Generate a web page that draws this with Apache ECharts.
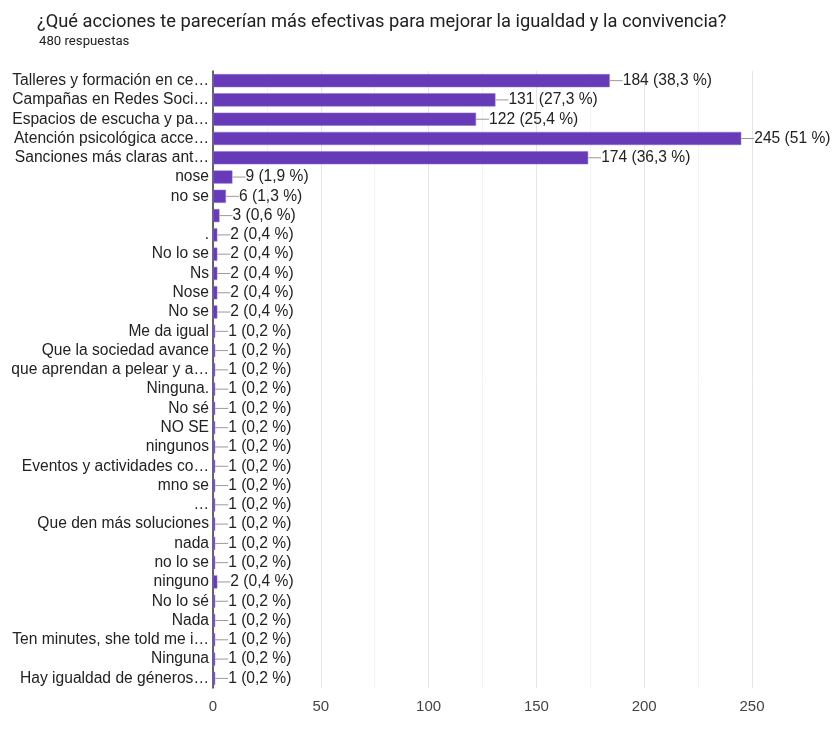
<!DOCTYPE html>
<html>
<head>
<meta charset="utf-8">
<script src="https://cdn.jsdelivr.net/npm/echarts@6/dist/echarts.min.js"></script>
<style>
  html, body { margin: 0; padding: 0; background: #fff; }
  #chart { width: 833px; height: 729px; }
</style>
</head>
<body>
<div id="chart"></div>
<script>
const titleText = '¿Qué acciones te parecerían más efectivas para mejorar la igualdad y la convivencia?'
const subtitleText = '480 respuestas'

const categories = [
  'Talleres y formación en ce…', 'Campañas en Redes Soci…', 'Espacios de escucha y pa…',
  'Atención psicológica acce…', 'Sanciones más claras ant…', 'nose', 'no se', ' ', '.',
  'No lo se', 'Ns', 'Nose', 'No se', 'Me da igual', 'Que la sociedad avance',
  'que aprendan a pelear y a…', 'Ninguna.', 'No sé', 'NO SE', 'ningunos',
  'Eventos y actividades co…', 'mno se', '…', 'Que den más soluciones', 'nada',
  'no lo se', 'ninguno', 'No lo sé', 'Nada', 'Ten minutes, she told me i…',
  'Ninguna', 'Hay igualdad de géneros…'
]
const counts = [184, 131, 122, 245, 174, 9, 6, 3, 2, 2, 2, 2, 2, 1, 1, 1, 1, 1, 1, 1, 1, 1, 1, 1, 1, 1, 2, 1, 1, 1, 1, 1]
const percents = ['38,3', '27,3', '25,4', '51', '36,3', '1,9', '1,3', '0,6', '0,4', '0,4', '0,4', '0,4', '0,4',
  '0,2', '0,2', '0,2', '0,2', '0,2', '0,2', '0,2', '0,2', '0,2', '0,2', '0,2', '0,2', '0,2', '0,4', '0,2', '0,2', '0,2', '0,2', '0,2']
const xTicks = [0, 50, 100, 150, 200, 250]

const chart = echarts.init(document.getElementById('chart'))

chart.setOption({
  animation: false,
  textStyle: { fontFamily: 'Liberation Sans, Arial, sans-serif' },
  title: [{
    text: titleText,
    left: 32,
    top: 8,
    textStyle: { fontFamily: 'Roboto', fontSize: 18.3, fontWeight: 'normal', color: '#202124' }
  }, {
    text: subtitleText,
    left: 34,
    top: 30,
    textStyle: { fontFamily: 'Roboto', fontSize: 13.2, fontWeight: 'normal', color: '#202124' }
  }],
  grid: { left: 213, right: 81, top: 71, bottom: 41 },
  xAxis: {
    type: 'value',
    min: xTicks[0],
    max: xTicks[xTicks.length - 1],
    interval: 50,
    axisLine: { show: false },
    axisTick: { show: false },
    axisLabel: { fontSize: 15, color: '#444', margin: 11 },
    splitLine: { lineStyle: { color: '#e6e6e6' } },
    minorTick: { show: false, splitNumber: 2 },
    minorSplitLine: { show: true, lineStyle: { color: '#f3f3f3' } }
  },
  yAxis: {
    type: 'category',
    inverse: true,
    data: categories,
    axisLine: { show: true, lineStyle: { color: '#333', width: 1.5 } },
    axisTick: { show: false },
    axisLabel: { interval: 0, fontSize: 15.6, color: '#222', margin: 4 }
  },
  series: [{
    type: 'bar',
    data: counts,
    barCategoryGap: '32%',
    itemStyle: { color: '#673ab7', borderColor: '#8e6cd0', borderWidth: 0.5 },
    label: {
      show: true,
      position: 'right',
      distance: 0,
      formatter: p => '{line| }{txt|' + counts[p.dataIndex] + ' (' + percents[p.dataIndex] + ' %)}',
      rich: {
        line: { width: 13, height: 1, backgroundColor: '#999' },
        txt: { fontSize: 15.6, color: '#222' }
      }
    }
  }]
})
</script>
</body>
</html>
